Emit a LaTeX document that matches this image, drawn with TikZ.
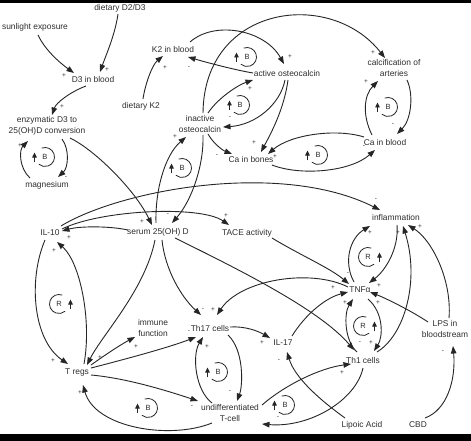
\documentclass[tikz,border=0pt]{standalone}
\usepackage{fontspec}
\setmainfont{Liberation Sans}
\usetikzlibrary{arrows.meta,calc}
\definecolor{txt}{HTML}{2E2E2E}
\definecolor{ln}{HTML}{262626}
\begin{document}
\begin{tikzpicture}[x=1pt,y=-1pt,
 lbl/.style={font=\fontsize{8.4}{11.5}\selectfont,text=txt,inner sep=1pt,align=center},
 arr/.style={draw=ln,line width=0.9pt,-{Triangle[length=7.5pt,width=5.5pt]}},
 sgn/.style={font=\fontsize{6.5}{7}\selectfont,text=txt,inner sep=0pt},
 loopln/.style={draw=ln,line width=0.8pt},
 looptip/.style={draw=ln,line width=0.8pt,-{Triangle[length=5pt,width=4.5pt]}},
 looptxt/.style={font=\fontsize{7.5}{8}\selectfont,text=txt,inner sep=0pt}]
\useasboundingbox (0,0) rectangle (471,441);
\fill[white] (0,0) rectangle (471,441);
\fill[black] (0,0) rectangle (471,3);
\fill[black] (0,434) rectangle (471,441);

% nodes
\node[lbl] (dD) at (120,8) {dietary D2/D3};
\node[lbl] (sun) at (35,27) {sunlight exposure};
\node[lbl] (D3) at (93,79) {D3 in blood};
\node[lbl] (enz) at (47,126) {enzymatic D3 to\\25(OH)D conversion};
\node[lbl] (mag) at (47,185) {magnesium};
\node[lbl] (K2) at (173,49) {K2 in blood};
\node[lbl] (dK2) at (141,106) {dietary K2};
\node[lbl] (aos) at (287,73) {active osteocalcin};
\node[lbl] (ios) at (200,124) {inactive\\osteocalcin};
\node[lbl] (cab) at (251,159) {Ca in bones};
\node[lbl] (calc) at (394,68) {calcification of\\arteries};
\node[lbl] (cabl) at (385,142) {Ca in blood};
\node[lbl] (il10) at (50,233) {IL-10};
\node[lbl] (ser) at (158,232) {serum 25(OH) D};
\node[lbl] (tace) at (247,233) {TACE activity};
\node[lbl] (inf) at (396,217) {inflammation};
\node[lbl] (tnf) at (360,290) {TNFα};
\node[lbl] (imm) at (153,328) {immune\\function};
\node[lbl] (th17) at (210,328) {Th17 cells};
\node[lbl] (il17) at (283,343) {IL-17};
\node[lbl] (treg) at (77,372) {T regs};
\node[lbl] (undiff) at (230,413) {undifferentiated\\T-cell};
\node[lbl] (th1) at (363,360) {Th1 cells};
\node[lbl] (lps) at (445,329) {LPS in\\bloodstream};
\node[lbl] (lip) at (362,425) {Lipoic Acid};
\node[lbl] (cbd) at (418,425) {CBD};

% connectors
\draw[arr] ($(sun)+(3,8)$) .. controls (45,50) and (60,63) .. ($(D3)+(-19,-6)$);
\draw[arr] ($(dD)+(-2,6)$) .. controls (115,35) and (106,55) .. ($(D3)+(7,-7)$);
\draw[arr] ($(D3)+(-7,7)$) .. controls (70,92) and (56,103) .. ($(enz)+(5,-11)$);
\draw[arr] ($(mag)+(-17,-7)$) .. controls (19,168) and (19,150) .. ($(enz)+(-19,15)$);
\draw[arr] ($(enz)+(15,13)$) .. controls (70,150) and (68,168) .. ($(mag)+(11,-8)$);
\draw[arr] ($(enz)+(23,12)$) .. controls (95,150) and (135,190) .. ($(ser)+(-6,-7)$);
\draw[arr] ($(dK2)+(2,-7)$) .. controls (145,85) and (152,65) .. ($(K2)+(-10,7)$);
\draw[arr] ($(aos)+(-34,0)$) .. controls (235,70) and (205,62) .. ($(K2)+(15,8)$);
\draw[arr] ($(K2)+(17,-7)$) .. controls (215,20) and (265,30) .. ($(aos)+(-3,-9)$);
\draw[arr] ($(ios)+(8,-11)$) .. controls (218,98) and (238,85) .. ($(aos)+(-34,7)$);
\draw[arr] ($(aos)+(-2,7)$) .. controls (280,105) and (255,125) .. ($(ios)+(23,3)$);
\draw[arr] ($(aos)+(1,7)$) .. controls (284,110) and (270,135) .. ($(cab)+(10,-7)$);
\draw[arr] ($(ios)+(8,10)$) .. controls (213,143) and (222,150) .. ($(cab)+(-19,-5)$);
\draw[arr] ($(cabl)+(-21,-5)$) .. controls (335,128) and (290,135) .. ($(cab)+(17,-5)$);
\draw[arr] ($(cab)+(21,6)$) .. controls (300,176) and (350,172) .. ($(cabl)+(-10,8)$);
\draw[arr] ($(cabl)+(-13,-7)$) .. controls (362,115) and (364,95) .. ($(calc)+(-16,13)$);
\draw[arr] ($(calc)+(13,12)$) .. controls (414,95) and (411,120) .. ($(cabl)+(12,-8)$);
\draw[arr] ($(ios)+(3,-11)$) .. controls (204,5) and (330,-12) .. ($(calc)+(-9,-10)$);
\draw[arr] ($(ios)+(3,11)$) .. controls (204,165) and (192,200) .. ($(ser)+(14,-9)$);
\draw[arr] ($(ser)+(-2,-9)$) .. controls (155,190) and (165,155) .. ($(ios)+(-14,13)$);
\draw[arr] ($(ser)+(-30,-2)$) .. controls (110,226) and (80,226) .. ($(il10)+(12,-2)$);
\draw[arr] ($(il10)+(11,-7)$) .. controls (120,190) and (280,160) .. ($(inf)+(-16,-7)$);
\draw[arr] ($(il10)+(12,-4)$) .. controls (100,210) and (200,205) .. ($(tace)+(-18,-8)$);
\draw[arr] ($(tace)+(25,5)$) .. controls (300,255) and (330,268) .. ($(tnf)+(-11,-6)$);
\draw[arr] ($(il17)+(9,-7)$) .. controls (305,315) and (325,298) .. ($(tnf)+(-12,2)$);
\draw[arr] ($(tnf)+(-12,-3)$) .. controls (310,268) and (240,280) .. ($(th17)+(7,-13)$);
\draw[arr] ($(ser)+(4,8)$) .. controls (165,270) and (182,298) .. ($(th17)+(-9,-13)$);
\draw[arr] ($(ser)+(-3,8)$) .. controls (145,290) and (102,335) .. ($(treg)+(10,-7)$);
\draw[arr] ($(ser)+(17,6)$) .. controls (240,270) and (320,310) .. ($(th1)+(-9,-10)$);
\draw[arr] ($(th1)+(-6,-8)$) .. controls (344,340) and (344,313) .. ($(tnf)+(-7,9)$);
\draw[arr] ($(tnf)+(8,9)$) .. controls (384,313) and (383,337) .. ($(th1)+(11,-9)$);
\draw[arr] ($(undiff)+(32,-8)$) .. controls (285,385) and (320,368) .. ($(th1)+(-12,4)$);
\draw[arr] ($(th1)+(0,8)$) .. controls (356,400) and (310,428) .. ($(undiff)+(32,11)$);
\draw[arr] ($(lip)+(-17,-7)$) .. controls (320,400) and (295,378) .. ($(il17)+(4,9)$);
\draw[arr] ($(th17)+(20,-1)$) .. controls (245,326) and (258,331) .. ($(il17)+(-13,-5)$);
\draw[arr] ($(undiff)+(-18,-10)$) .. controls (195,390) and (192,355) .. ($(th17)+(-7,9)$);
\draw[arr] ($(th17)+(18,7)$) .. controls (244,350) and (243,385) .. ($(undiff)+(7,-12)$);
\draw[arr] ($(treg)+(14,-4)$) .. controls (130,358) and (170,347) .. ($(th17)+(-14,9)$);
\draw[arr] ($(treg)+(14,3)$) .. controls (125,378) and (165,390) .. ($(undiff)+(-32,-12)$);
\draw[arr] ($(undiff)+(-18,10)$) .. controls (170,440) and (95,428) .. ($(treg)+(6,13)$);
\draw[arr] ($(treg)+(14,-7)$) .. controls (105,355) and (120,345) .. ($(imm)+(-18,9)$);
\draw[arr] ($(il10)+(-5,7)$) .. controls (28,280) and (33,340) .. ($(treg)+(-9,-8)$);
\draw[arr] ($(treg)+(7,-8)$) .. controls (92,320) and (80,262) .. ($(il10)+(7,9)$);
\draw[arr] ($(lps)+(4,-11)$) .. controls (452,280) and (432,240) .. ($(inf)+(12,8)$);
\draw[arr] ($(th1)+(14,-8)$) .. controls (405,335) and (420,280) .. ($(inf)+(7,9)$);
\draw[arr] ($(tnf)+(-6,-8)$) .. controls (343,262) and (350,238) .. ($(inf)+(-26,9)$);
\draw[arr] ($(inf)+(1,8)$) .. controls (399,248) and (386,270) .. ($(tnf)+(9,-7)$);
\draw[arr] ($(lps)+(-17,-7)$) .. controls (410,310) and (385,298) .. ($(tnf)+(10,2)$);
\draw[arr] ($(cbd)+(7,-7)$) .. controls (447,410) and (456,380) .. ($(lps)+(8,17)$);

% loop markers
\foreach \x/\y [count=\i] in {45/157,247/57,240/105,318/155,388/107,182/168,148/408,218/372,285/405}{
  \node[looptxt] (b\i) at (\x,\y) {B};
  \draw[loopln] (b\i.center) ++(-110:9.5) arc[start angle=-110, delta angle=240, radius=9.5];
  \draw[looptip] ($(b\i.center)+(-10.5,5)$) -- ($(b\i.center)+(-10.5,-4.5)$);
}
\foreach \x/\y [count=\i] in {368/257,59/304,363/326}{
  \node[looptxt] (r\i) at (\x,\y) {R};
  \draw[loopln] (r\i.center) ++(-70:9.5) arc[start angle=-70, delta angle=-240, radius=9.5];
  \draw[looptip] ($(r\i.center)+(11.5,5)$) -- ($(r\i.center)+(11.5,-4.5)$);
}

% polarity signs
\foreach \x/\y/\s [count=\i] in {64/76/+,107/70/+,62/107/+,20/146/+,66/178/-,142/222/+,69/238/+,54/251/+,
  165/68/+,189/68/-,290/57/+,250/89/+,230/118/-,254/143/+,217/156/-,275/157/+,364/147/-,373/53/+,366/82/+,
  393/125/-,175/137/+,168/215/-,226/216/+,376/200/-,370/233/+,398/233/+,420/227/+,348/274/-,333/288/+,
  379/286/+,345/303/+,378/303/+,360/343/-,371/343/+,342/373/+,443/352/-,203/310/-,213/310/+,189/332/-,
  207/347/+,262/343/+,279/361/-,230/392/-,192/407/-,278/418/-,53/361/+,100/358/+,136/347/+,80/393/+}{
  \node[sgn] (s\i) at (\x,\y) {\s};
}
\end{tikzpicture}
\end{document}
